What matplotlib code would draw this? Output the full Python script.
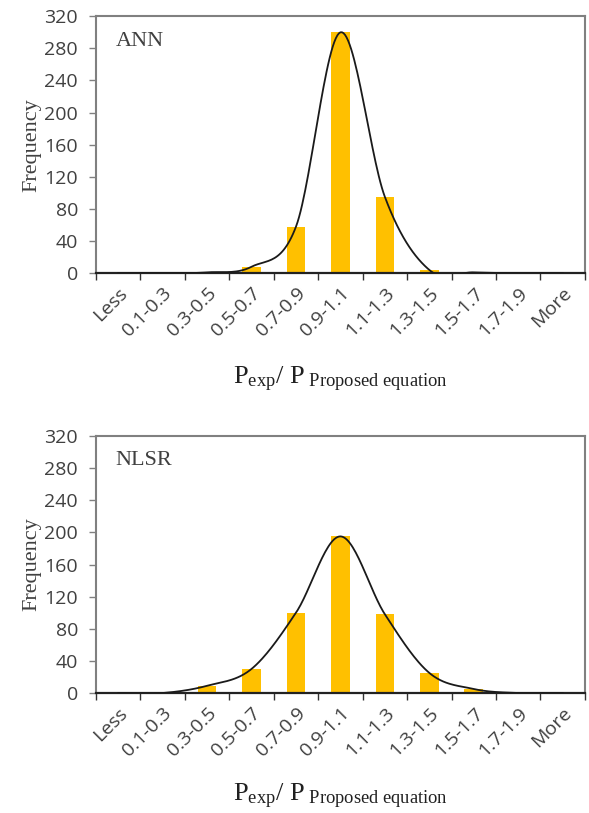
import numpy as np
import matplotlib
matplotlib.use("Agg")
import matplotlib.pyplot as plt

categories = ["Less", "0.1-0.3", "0.3-0.5", "0.5-0.7", "0.7-0.9", "0.9-1.1",
              "1.1-1.3", "1.3-1.5", "1.5-1.7", "1.7-1.9", "More"]
ann_freq = [0, 0, 1, 8, 58, 300, 95, 4, 1, 0, 0]
nlsr_freq = [0, 0, 9, 30, 100, 195, 98, 25, 5, 0, 0]
panel_names = ["ANN", "NLSR"]
yticks = [0, 40, 80, 120, 160, 200, 240, 280, 320]

plt.rcParams['mathtext.fontset'] = 'custom'
plt.rcParams['mathtext.rm'] = 'Liberation Serif'
plt.rcParams['mathtext.it'] = 'Liberation Serif'

BAR = "#FFC000"
SPINE = "#808080"
TXT = "#404040"


def excel_smooth(x, y, n=30, k=1 / 6):
    x = np.asarray(x, float); y = np.asarray(y, float)
    px = np.concatenate([[x[0]], x, [x[-1]]])
    py = np.concatenate([[y[0]], y, [y[-1]]])
    xs, ys = [], []
    t = np.linspace(0, 1, n)
    for i in range(1, len(px) - 2):
        p0 = np.array([px[i], py[i]]); p3 = np.array([px[i + 1], py[i + 1]])
        c1 = p0 + (np.array([px[i + 1], py[i + 1]]) - np.array([px[i - 1], py[i - 1]])) * k
        c2 = p3 - (np.array([px[i + 2], py[i + 2]]) - np.array([px[i], py[i]])) * k
        b = ((1 - t) ** 3)[:, None] * p0 + (3 * (1 - t) ** 2 * t)[:, None] * c1 + \
            (3 * (1 - t) * t ** 2)[:, None] * c2 + (t ** 3)[:, None] * p3
        xs.append(b[:, 0]); ys.append(b[:, 1])
    return np.concatenate(xs), np.concatenate(ys)


fig = plt.figure(figsize=(5.89, 8.13), dpi=100)
rects = [[0.163, 0.664, 0.830, 0.316], [0.163, 0.1476, 0.830, 0.3161]]
label_y = [0.527, 0.014]

for k, (freq, name) in enumerate(zip([ann_freq, nlsr_freq], panel_names)):
    ax = fig.add_axes(rects[k])
    x = np.arange(len(categories))
    ax.bar(x, freq, width=0.42, color=BAR, zorder=2)
    sx, sy = excel_smooth(x, freq)
    ax.plot(sx, sy, color="#1a1a1a", lw=1.3, zorder=3)
    ax.set_xlim(-0.5, len(categories) - 0.5)
    ax.set_ylim(0, 320)
    ax.set_yticks(yticks)
    ax.set_yticklabels([str(v) for v in yticks], fontsize=14, family="Open Sans", color=TXT)
    ax.set_xticks(x)
    ax.set_xticklabels(categories, rotation=45, ha="right", rotation_mode="anchor",
                       fontsize=14, family="Open Sans", color=TXT)
    ax.tick_params(axis="x", length=0, pad=8)
    ax.set_xticks(np.arange(-0.5, len(categories)), minor=True)
    ax.tick_params(axis="x", which="minor", length=5, width=1.0, color="#333333", direction="out")
    ax.tick_params(axis="y", length=5, width=1.0, color=SPINE, direction="out", pad=8)
    for s in ["top", "left", "right"]:
        ax.spines[s].set_color(SPINE)
        ax.spines[s].set_linewidth(1.5)
    ax.spines["bottom"].set_color("#222222")
    ax.spines["bottom"].set_linewidth(1.6)
    ax.set_ylabel("Frequency", family="Liberation Serif", fontsize=16, labelpad=2, color=TXT)
    ax.text(0.04, 0.94, name, transform=ax.transAxes, family="Liberation Serif",
            fontsize=16, va="top", ha="left", color=TXT)
    fig.text(0.578, label_y[k], r"$\mathrm{P_{exp}/\ P_{\ Proposed\ equation}}$",
             fontsize=19, ha="center", va="baseline", color="#202020")

fig.savefig("out.png", dpi=100)
